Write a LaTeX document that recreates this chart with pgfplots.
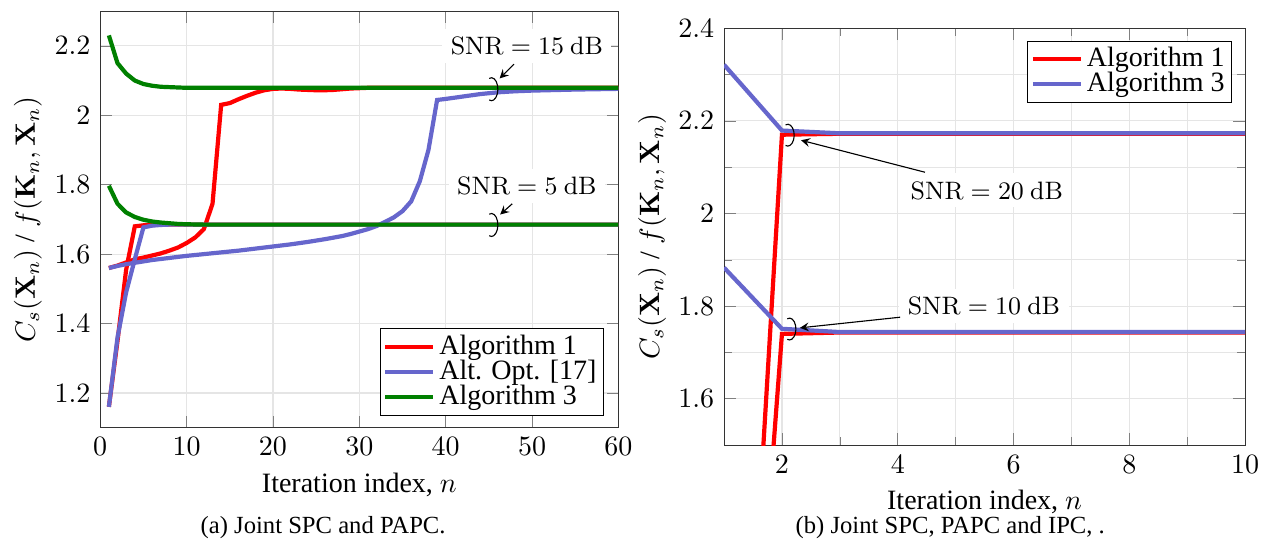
\documentclass[border=0pt]{standalone}
\usepackage[no-math]{fontspec}
\setmainfont{Liberation Serif}
\usepackage{pgfplots}
\pgfplotsset{compat=1.18}
\definecolor{algred}{RGB}{255,0,0}
\definecolor{algblue}{RGB}{102,102,204}
\definecolor{alggreen}{RGB}{0,128,0}
\pgfplotsset{
  myaxis/.style={
    scale only axis,
    axis line style={black!80},
    tick style={black!50},
    major grid style={black!10},
    minor grid style={black!10},
    legend cell align=left,
    legend style={draw=black, fill=white, inner xsep=1pt, inner ysep=2pt,
      nodes={inner xsep=1.5pt, inner ysep=0.25pt}},
    every axis plot/.append style={line width=1.5pt},
  },
}
\tikzset{snr/.style={fill=white, font=\fontsize{9}{10}\selectfont, inner sep=3pt}}
\begin{document}
\begin{tikzpicture}
\useasboundingbox (0,0) rectangle (451.8pt,192.86pt);
% ---------------- left panel ----------------
\begin{axis}[myaxis,
  at={(35.8pt,40.1pt)}, anchor=south west,
  width=185.1pt, height=148.8pt,
  xmin=0, xmax=60, ymin=1.1, ymax=2.3,
  xtick={0,10,20,30,40,50,60},
  ytick={1.2,1.4,1.6,1.8,2,2.2},
  grid=major,
  xlabel={Iteration index, $n$},
  ylabel={$C_s(\mathbf{X}_n)$ / $f(\mathbf{K}_n, \mathbf{X}_n)$},
  xlabel style={at={(axis description cs:0.5,-0.1375)}, anchor=center},
  ylabel style={at={(axis description cs:-0.1395,0.5)}, anchor=center},
  legend style={at={(axis description cs:0.972,0.029)}, anchor=south east},
]
% Algorithm 1, SNR = 15 dB
\addplot[algred] coordinates {
 (1,1.56) (2,1.567) (3,1.576) (4,1.585) (5,1.59) (6,1.596) (7,1.602) (8,1.61)
 (9,1.619) (10,1.632) (11,1.648) (12,1.672) (13,1.745) (14,2.03) (15,2.035)
 (16,2.046) (17,2.056) (18,2.065) (19,2.072) (20,2.076) (21,2.077) (22,2.076)
 (23,2.074) (24,2.073) (25,2.072) (26,2.072) (27,2.073) (28,2.075) (29,2.077)
 (30,2.078) (31,2.079) (40,2.079) (50,2.079) (60,2.079)};
\addlegendentry{Algorithm 1}
% Algorithm 1, SNR = 5 dB
\addplot[algred, forget plot] coordinates {
 (1,1.16) (2,1.35) (3,1.555) (4,1.68) (5,1.683) (6,1.684) (7,1.685)
 (20,1.685) (40,1.685) (60,1.685)};
% Alt. Opt., SNR = 15 dB
\addplot[algblue] coordinates {
 (1,1.56) (2,1.566) (3,1.571) (4,1.575) (5,1.579) (6,1.583) (7,1.586) (8,1.589)
 (9,1.592) (10,1.595) (12,1.6) (14,1.605) (16,1.61) (18,1.616) (20,1.622)
 (22,1.628) (24,1.635) (26,1.643) (28,1.652) (29,1.658) (30,1.665) (31,1.672)
 (32,1.681) (33,1.693) (34,1.706) (35,1.724) (36,1.752) (37,1.81) (38,1.9)
 (39,2.044) (40,2.047) (42,2.054) (44,2.061) (46,2.066) (48,2.069) (50,2.071)
 (55,2.074) (60,2.076)};
\addlegendentry{Alt. Opt. [17]}
% Alt. Opt., SNR = 5 dB
\addplot[algblue, forget plot] coordinates {
 (1,1.16) (2,1.36) (3,1.49) (4,1.585) (5,1.677) (6,1.682) (7,1.684) (8,1.685)
 (20,1.685) (40,1.685) (60,1.685)};
% Algorithm 3, SNR = 15 dB
\addplot[alggreen] coordinates {
 (1,2.23) (2,2.15) (3,2.12) (4,2.1) (5,2.09) (6,2.085) (7,2.082) (8,2.081)
 (9,2.08) (10,2.079) (20,2.079) (40,2.079) (60,2.079)};
\addlegendentry{Algorithm 3}
% Algorithm 3, SNR = 5 dB
\addplot[alggreen, forget plot] coordinates {
 (1,1.797) (2,1.745) (3,1.72) (4,1.707) (5,1.699) (6,1.694) (7,1.691) (8,1.689)
 (9,1.687) (10,1.686) (12,1.685) (20,1.685) (40,1.685) (60,1.685)};
% annotations
\node[snr] at (axis cs:49.4,2.199) {$\mathrm{SNR} = 15~\mathrm{dB}$};
\draw[-stealth] (axis cs:47.9,2.147) -- (axis cs:46.24,2.106);
\draw ([shift={(110:2.3pt and 4.1pt)}]axis cs:45.29,2.075) arc[start angle=110, end angle=-110, x radius=2.3pt, y radius=4.1pt];
\node[snr] at (axis cs:49.4,1.796) {$\mathrm{SNR} = 5~\mathrm{dB}$};
\draw[-stealth] (axis cs:47.7,1.745) -- (axis cs:46.3,1.714);
\draw ([shift={(110:2.3pt and 4.1pt)}]axis cs:45.29,1.684) arc[start angle=110, end angle=-110, x radius=2.3pt, y radius=4.1pt];
\end{axis}
% ---------------- right panel ----------------
\begin{axis}[myaxis,
  at={(258.6pt,33.9pt)}, anchor=south west,
  width=186.1pt, height=148.9pt,
  xmin=1, xmax=10, ymin=1.5, ymax=2.4,
  xtick={2,4,6,8,10}, minor xtick={1,3,5,7,9},
  ytick={1.6,1.8,2,2.2,2.4}, minor ytick={1.5,1.7,1.9,2.1,2.3},
  grid=both,
  xlabel={Iteration index, $n$},
  ylabel={$C_s(\mathbf{X}_n)$ / $f(\mathbf{K}_n, \mathbf{X}_n)$},
  xlabel style={at={(axis description cs:0.5,-0.136)}, anchor=center},
  ylabel style={at={(axis description cs:-0.138,0.5)}, anchor=center},
  legend style={at={(axis description cs:0.975,0.97)}, anchor=north east},
]
% Algorithm 1, SNR = 20 dB
\addplot[algred] coordinates {
 (1,0.08) (2,2.17) (3,2.172) (4,2.172) (5,2.172) (6,2.172) (7,2.172) (8,2.172) (9,2.172) (10,2.172)};
\addlegendentry{Algorithm 1}
% Algorithm 1, SNR = 10 dB
\addplot[algred, forget plot] coordinates {
 (1,0.08) (2,1.74) (3,1.743) (4,1.743) (5,1.743) (6,1.743) (7,1.743) (8,1.743) (9,1.743) (10,1.743)};
% Algorithm 3, SNR = 20 dB
\addplot[algblue] coordinates {
 (1,2.321) (2,2.179) (3,2.173) (4,2.173) (5,2.173) (6,2.173) (7,2.173) (8,2.173) (9,2.173) (10,2.173)};
\addlegendentry{Algorithm 3}
% Algorithm 3, SNR = 10 dB
\addplot[algblue, forget plot] coordinates {
 (1,1.883) (2,1.751) (3,1.744) (4,1.744) (5,1.744) (6,1.744) (7,1.744) (8,1.744) (9,1.744) (10,1.744)};
% annotations
\node[snr] at (axis cs:5.54,2.05) {$\mathrm{SNR} = 20~\mathrm{dB}$};
\draw[-stealth] (axis cs:4.47,2.089) -- (axis cs:2.33,2.158);
\draw ([shift={(110:2.3pt and 3.9pt)}]axis cs:2.10,2.169) arc[start angle=110, end angle=-110, x radius=2.3pt, y radius=3.9pt];
\node[snr] at (axis cs:5.49,1.80) {$\mathrm{SNR} = 10~\mathrm{dB}$};
\draw[-stealth] (axis cs:4.04,1.776) -- (axis cs:2.31,1.753);
\draw ([shift={(110:2.3pt and 3.9pt)}]axis cs:2.13,1.7505) arc[start angle=110, end angle=-110, x radius=2.3pt, y radius=3.9pt];
\end{axis}
% captions
\node[font=\fontsize{8.8}{10.5}\selectfont] at (115.4pt,4.3pt) {(a) Joint SPC and PAPC.};
\node[font=\fontsize{8.8}{10.5}\selectfont] at (339.4pt,4.3pt) {(b) Joint SPC, PAPC and IPC, .};
\end{tikzpicture}
\end{document}
